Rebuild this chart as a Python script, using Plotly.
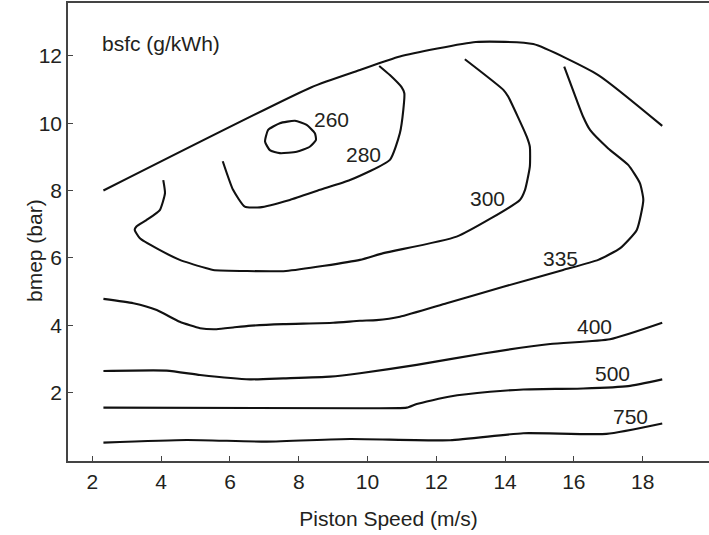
import plotly.graph_objects as go

# ---- data (piston speed m/s, bmep bar) ----
top_x = [2.32, 8.37, 9.78, 10.94, 13.15, 14.82, 16.71, 18.57]
top_y = [8.00, 11.07, 11.58, 11.98, 12.41, 12.35, 11.43, 9.92]

c260_x = [7.02, 7.11, 7.45, 7.89, 8.23, 8.47, 8.50, 8.32, 7.94, 7.45, 7.16, 7.02]
c260_y = [9.45, 9.80, 10.00, 10.07, 9.95, 9.70, 9.50, 9.30, 9.15, 9.11, 9.20, 9.45]

c280_x = [5.79, 6.09, 6.43, 6.87, 7.74, 8.62, 9.49, 10.65, 10.94, 11.04, 11.07, 10.99, 10.65, 10.34]
c280_y = [8.87, 8.02, 7.52, 7.50, 7.72, 8.02, 8.31, 8.91, 9.70, 10.39, 10.89, 11.07, 11.43, 11.70]

c300_x = [4.06, 4.11, 3.96, 3.57, 3.28, 3.23, 3.38, 3.87, 4.54, 5.32, 5.51, 7.63, 9.78,
          10.46, 12.59, 14.43, 14.58, 14.72, 14.72, 14.63, 14.09, 13.95, 12.83]
c300_y = [8.31, 7.92, 7.42, 7.12, 6.93, 6.83, 6.58, 6.28, 5.94, 5.69, 5.64, 5.61, 5.94,
          6.14, 6.63, 7.72, 8.02, 8.71, 9.30, 9.60, 10.79, 10.99, 11.90]

c335_x = [2.32, 3.19, 3.87, 4.54, 5.13, 5.61, 6.09, 6.53, 7.55, 9.00, 9.78, 10.26, 10.94,
          12.30, 13.95, 15.69, 16.71, 17.35, 17.83, 18.02, 17.92, 17.58, 17.00, 16.47,
          16.27, 16.08, 15.72]
c335_y = [4.78, 4.65, 4.45, 4.10, 3.91, 3.88, 3.93, 3.98, 4.03, 4.07, 4.13, 4.15, 4.25,
          4.65, 5.14, 5.64, 5.94, 6.29, 6.83, 7.72, 8.22, 8.76, 9.25, 9.80,
          10.19, 10.69, 11.68]

c400_x = [2.32, 4.16, 5.13, 6.58, 7.55, 8.91, 9.78, 11.43, 13.37, 15.31, 17.05, 18.57]
c400_y = [2.64, 2.65, 2.52, 2.39, 2.42, 2.47, 2.57, 2.82, 3.16, 3.44, 3.58, 4.07]

c500_x = [2.32, 9.78, 11.14, 11.43, 12.40, 13.56, 14.53, 16.27, 17.58, 18.57]
c500_y = [1.55, 1.53, 1.55, 1.66, 1.88, 2.02, 2.09, 2.12, 2.19, 2.39]

c750_x = [2.32, 4.74, 7.07, 9.49, 12.40, 14.53, 16.95, 18.57]
c750_y = [0.51, 0.59, 0.54, 0.62, 0.58, 0.79, 0.77, 1.08]

label_text = ["260", "280", "300", "335", "400", "500", "750"]
label_x = [8.96, 9.88, 13.49, 15.61, 16.61, 17.11, 17.66]
label_y = [10.10, 9.06, 7.75, 5.99, 3.95, 2.57, 1.28]

x_ticks = [2, 4, 6, 8, 10, 12, 14, 16, 18]
y_ticks = [2, 4, 6, 8, 10, 12]

curves = [(top_x, top_y), (c260_x, c260_y), (c280_x, c280_y), (c300_x, c300_y),
          (c335_x, c335_y), (c400_x, c400_y), (c500_x, c500_y), (c750_x, c750_y)]

FONT = "Liberation Sans, Arial, Helvetica, sans-serif"
FS = 21
TXT = "#231f20"
AX = "#444444"

fig = go.Figure()
for xs, ys in curves:
    fig.add_trace(go.Scatter(x=xs, y=ys, mode="lines",
                             line=dict(color="#111111", width=2.1, shape="spline", smoothing=0.5),
                             showlegend=False, hoverinfo="skip"))

for t, lx, ly in zip(label_text, label_x, label_y):
    fig.add_annotation(x=lx, y=ly, text=t, showarrow=False,
                       font=dict(family=FONT, size=FS, color=TXT))

fig.add_annotation(x=2.22, y=12.37, text="bsfc (g/kWh)", showarrow=False, xanchor="left",
                   font=dict(family=FONT, size=FS, color=TXT))

fig.add_annotation(xref="paper", yref="paper", x=-0.073, y=0.46, text="bmep (bar)",
                   textangle=-90, showarrow=False,
                   font=dict(family=FONT, size=FS, color=TXT))

fig.update_layout(
    width=709, height=535,
    margin=dict(l=68, r=0, t=3, b=74),
    paper_bgcolor="white", plot_bgcolor="white",
    font=dict(family=FONT, size=FS, color=TXT),
    xaxis=dict(range=[1.29, 19.93], tickvals=x_ticks, ticks="inside", ticklen=5,
               tickcolor=AX, tickwidth=1.3, showline=True, linecolor=AX, linewidth=1.5,
               mirror=True, showgrid=False, zeroline=False, ticklabelstandoff=1,
               tickfont=dict(family=FONT, size=FS, color=TXT),
               title=dict(text="Piston Speed (m/s)", standoff=19,
                          font=dict(family=FONT, size=FS, color=TXT))),
    yaxis=dict(range=[-0.035, 13.57], tickvals=y_ticks, ticks="inside", ticklen=5,
               tickcolor=AX, tickwidth=1.3, showline=True, linecolor=AX, linewidth=1.5,
               showgrid=False, zeroline=False, ticklabelstandoff=0,
               tickfont=dict(family=FONT, size=FS, color=TXT)),
)

fig.write_html("out.html", config={"displayModeBar": False},
               post_script="document.body.style.margin='0';")
